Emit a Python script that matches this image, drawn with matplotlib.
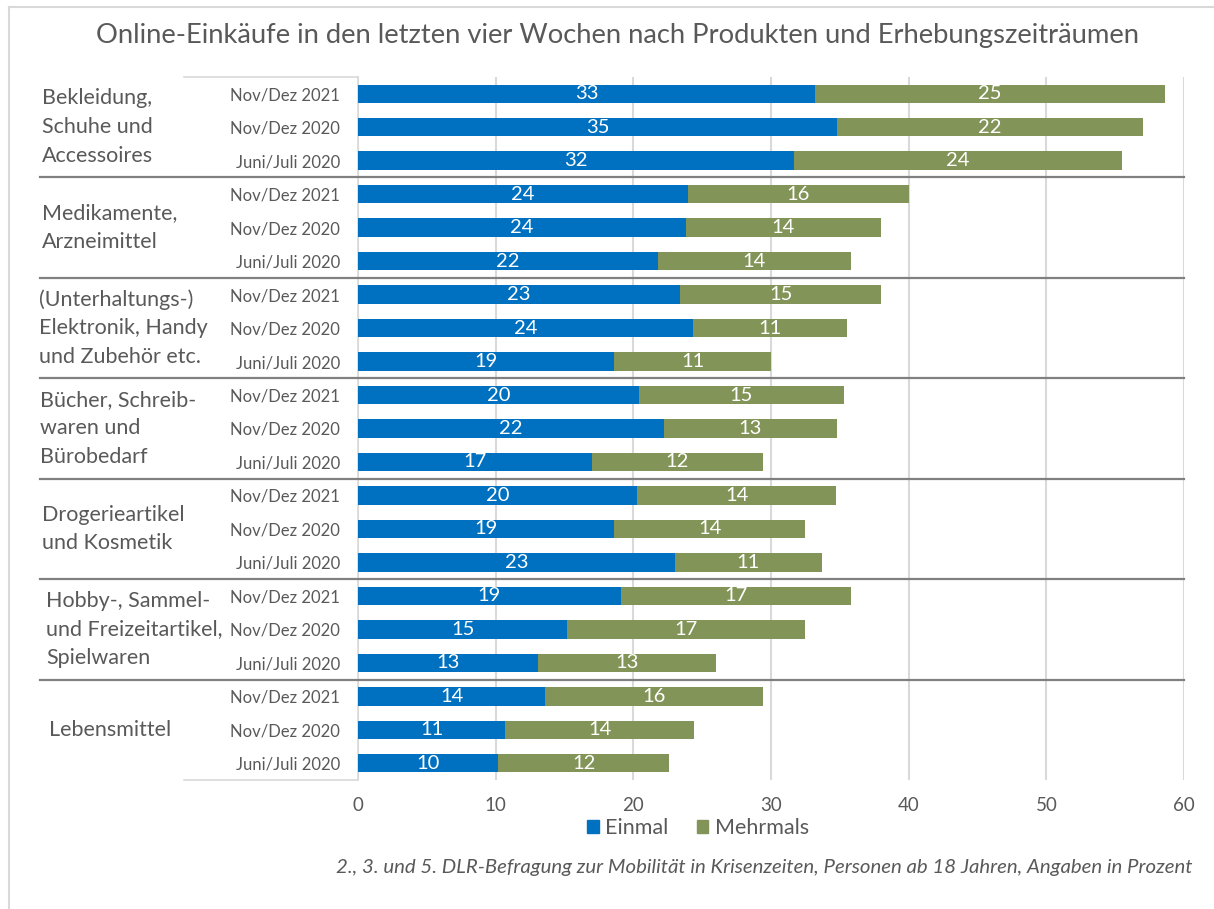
import matplotlib
matplotlib.use("Agg")
import matplotlib.pyplot as plt
import matplotlib.transforms as mtransforms
from matplotlib.lines import Line2D
from matplotlib.patches import Patch

plt.rcParams['font.family'] = ['Lato', 'DejaVu Sans']

title = "Online-Einkäufe in den letzten vier Wochen nach Produkten und Erhebungszeiträumen"
footer = "2., 3. und 5. DLR-Befragung zur Mobilität in Krisenzeiten, Personen ab 18 Jahren, Angaben in Prozent"
categories = [
    "Bekleidung,\nSchuhe und\nAccessoires",
    "Medikamente,\nArzneimittel",
    "(Unterhaltungs-)\nElektronik, Handy\nund Zubehör etc.",
    "Bücher, Schreib-\nwaren und\nBürobedarf",
    "Drogerieartikel\nund Kosmetik",
    "Hobby-, Sammel-\nund Freizeitartikel,\nSpielwaren",
    "Lebensmittel",
]
periods = ["Nov/Dez 2021", "Nov/Dez 2020", "Juni/Juli 2020"]
series_names = ["Einmal", "Mehrmals"]
einmal = [
    [33.2, 34.8, 31.7],
    [24.0, 23.8, 21.8],
    [23.4, 24.3, 18.6],
    [20.4, 22.2, 17.0],
    [20.3, 18.6, 23.0],
    [19.1, 15.2, 13.1],
    [13.6, 10.7, 10.2],
]
mehrmals = [
    [25.4, 22.2, 23.8],
    [16.0, 14.2, 14.0],
    [14.6, 11.2, 11.4],
    [14.9, 12.6, 12.4],
    [14.4, 13.9, 10.7],
    [16.7, 17.3, 12.9],
    [15.8, 13.7, 12.4],
]
x_ticks = [0, 10, 20, 30, 40, 50, 60]

BLUE = "#0070C0"
GREEN = "#829457"
GRAY_TXT = "#595959"
GRID = "#D9D9D9"
SEP = "#808080"

W, H = 1214, 909
fig = plt.figure(figsize=(W / 100, H / 100), dpi=100)
ax = fig.add_axes([358 / W, 1 - 780 / H, (1184 - 358) / W, (780 - 77) / H])

n_groups = len(categories)
n_per = len(periods)
ypos = list(range(n_groups * n_per))
e_flat = [v for g in einmal for v in g]
m_flat = [v for g in mehrmals for v in g]
ylabels = [p for _ in categories for p in periods]

bh = 0.55
b1 = ax.barh(ypos, e_flat, height=bh, color=BLUE, label=series_names[0], zorder=3)
b2 = ax.barh(ypos, m_flat, left=e_flat, height=bh, color=GREEN, label=series_names[1], zorder=3)
ax.bar_label(b1, fmt="%.0f", label_type="center", color="white", fontsize=14.5)
ax.bar_label(b2, fmt="%.0f", label_type="center", color="white", fontsize=14.5)

ax.set_xlim(0, 60)
ax.set_ylim(n_groups * n_per - 0.5, -0.5)
ax.set_xticks(x_ticks)
ax.set_xticklabels([str(t) for t in x_ticks])
ax.set_yticks(ypos)
ax.set_yticklabels(ylabels)
ax.tick_params(axis="y", length=0, pad=13, labelsize=12, labelcolor=GRAY_TXT)
ax.tick_params(axis="x", length=0, pad=12, labelsize=13.5, labelcolor=GRAY_TXT)
ax.grid(axis="x", color=GRID, linewidth=1.5, zorder=0)
for s in ["top", "right", "bottom"]:
    ax.spines[s].set_visible(False)
ax.spines["left"].set_color(GRID)
ax.spines["left"].set_linewidth(1.2)

# group separators and category box lines
trans = mtransforms.blended_transform_factory(fig.transFigure, ax.transData)
for g in range(1, n_groups):
    y = g * n_per - 0.5
    fig.add_artist(Line2D([40 / W, 1184 / W], [y, y], transform=trans, color=SEP, linewidth=1.6, zorder=5))
for y in [-0.5, n_groups * n_per - 0.5]:
    fig.add_artist(Line2D([184 / W, 358 / W], [y, y], transform=trans, color=GRID, linewidth=1.2))

cat_x = [42, 42, 39, 40, 42, 46, 49]
for g, name in enumerate(categories):
    yc = g * n_per + 1
    ax.text(cat_x[g] / W, yc, name, transform=trans, ha="left", va="center",
            fontsize=15.5, color=GRAY_TXT, linespacing=1.55)

# outer frame
fig.add_artist(Line2D([9 / W, 9 / W], [0, 1 - 7 / H], transform=fig.transFigure, color=GRID, linewidth=1.5))
fig.add_artist(Line2D([9 / W, 1], [1 - 7 / H, 1 - 7 / H], transform=fig.transFigure, color=GRID, linewidth=1.5))

fig.text(617 / W, 1 - 36 / H, title, ha="center", va="center", fontsize=19.7, color=GRAY_TXT)

handles = [Patch(color=BLUE, label=series_names[0]), Patch(color=GREEN, label=series_names[1])]
fig.legend(handles=handles, loc="center", bbox_to_anchor=(698 / W, 1 - 828 / H), ncol=2, frameon=False,
           fontsize=15.5, labelcolor=GRAY_TXT, handlelength=0.55, handleheight=0.55, handletextpad=0.3,
           columnspacing=1.3)

fig.text(1193 / W, 1 - 868 / H, footer, ha="right", va="center", fontsize=14.7, color=GRAY_TXT, style="italic")

fig.savefig("out.png", dpi=100)
